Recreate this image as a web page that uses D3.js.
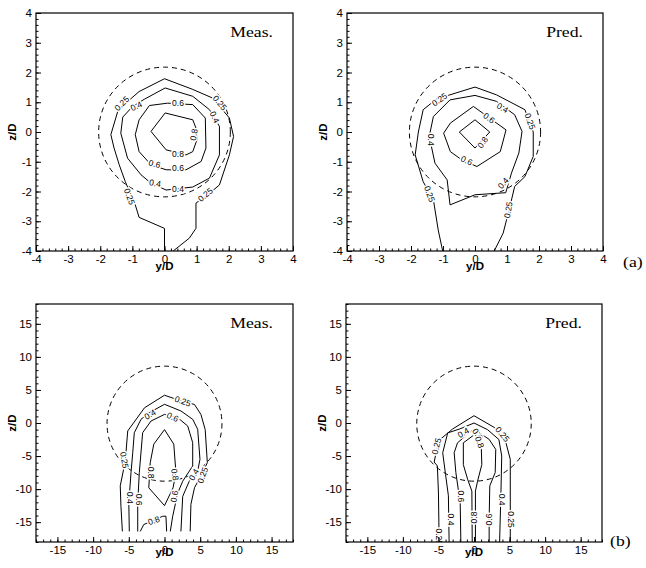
<!DOCTYPE html>
<html>
<head>
<meta charset="utf-8">
<script src="https://cdn.jsdelivr.net/npm/d3@7"></script>
<style>
body { margin: 0; background: #fff; }
svg { display: block; }
.tick text { font-family: "Liberation Sans", Arial, sans-serif; font-size: 11.5px; fill: #000; }
.clabel { font-family: "Liberation Sans", Arial, sans-serif; font-size: 8.5px; fill: #000; }
.serif { font-family: "Liberation Serif", "Times New Roman", serif; font-size: 15px; }
</style>
</head>
<body>
<div id="container"></div>
<script>
// tick labels
const ticksA = [-4, -3, -2, -1, 0, 1, 2, 3, 4];
const ticksB = [-15, -10, -5, 0, 5, 10, 15];

// dashed circle: [cx, cy, radius along y/D, radius along z/D]
const circleA = [0, 0, 2.05, 2.18];
const circleB = [0, -0.1, 8.05, 8.7];

// (a) measured
const measA_025 = [[0,-4],[0,-3.24],[-0.79,-2.87],[-0.91,-2.45],[-1.22,-1.67],[-1.41,-1.1],[-1.57,-0.54],[-1.67,-0.09],[-1.44,0.75],[-0.79,1.36],[0,1.79],[0.86,1.44],[1.5,1.14],[2.02,0.47],[2.15,-0.15],[2.02,-0.77],[1.71,-1.78],[1.4,-2.06],[0.98,-2.39],[0.98,-3.24],[0.77,-3.57],[0.27,-4]];
const measA_04 = [[0.02,1.48],[0.88,1.2],[1.4,0.75],[1.71,0.19],[1.71,-0.77],[1.4,-1.55],[0.88,-1.85],[0.05,-1.95],[-0.42,-1.72],[-0.73,-1.44],[-1.15,-0.88],[-1.36,-0.04],[-1.3,0.5],[-1.0,0.85],[-0.63,1.1]];
const measA_06 = [[-0.47,0.89],[0.1,0.97],[0.88,0.92],[1.27,0.47],[1.29,-0.54],[1.14,-0.99],[0.67,-1.27],[0.05,-1.27],[-0.42,-1.1],[-0.79,-0.66],[-0.91,-0.09],[-0.79,0.41]];
const measA_08 = [[-0.42,0.02],[0.02,0.64],[0.88,0.41],[0.98,0.13],[1.03,-0.2],[0.88,-0.66],[0.67,-0.77],[0.05,-0.6]];
const measA_labels = [[-1.33,0.96,"0.25",-45],[-0.88,0.87,"0.4",-25],[0.42,0.96,"0.6",0],[1.72,0.98,"0.25",50],[1.56,0.5,"0.4",65],[0.91,-0.09,"0.8",-80],[0.42,-0.73,"0.8",0],[-0.31,-1.07,"0.6",15],[0.42,-1.21,"0.6",0],[-0.29,-1.72,"0.4",10],[0.42,-1.91,"0.4",0],[-1.09,-2.17,"0.25",70],[1.27,-2.11,"0.25",-40]];

// (a) predicted
const predA_025 = [[-1.01,-4],[-1.15,-3.29],[-1.3,-2.28],[-1.62,-1.67],[-1.87,-0.77],[-1.77,0],[-1.62,0.75],[-1.2,1.11],[0,1.51],[0.67,1.25],[1.56,0.75],[1.82,0],[1.82,-0.82],[1.56,-1.5],[1.24,-1.83],[1.09,-2.51],[0.88,-3.4],[0.6,-4]];
const predA_04 = [[0,1.23],[0.67,1.03],[1.24,0.58],[1.47,0.02],[1.37,-0.71],[1.14,-1.38],[0.96,-2.04],[0,-2.11],[-0.78,-2.45],[-0.87,-1.61],[-1.25,-1.05],[-1.43,-0.15],[-1.3,0.52],[-0.78,1.08]];
const predA_06 = [[-0.05,0.86],[0.97,0.07],[0.79,-0.66],[0.06,-1.16],[-0.41,-0.94],[-0.77,-0.66],[-0.98,-0.04],[-0.77,0.3]];
const predA_08 = [[-0.49,0],[0,0.41],[0.46,0],[0,-0.54]];
const predA_labels = [[-1.11,1.09,"0.25",-35],[0.86,0.81,"0.4",30],[0.44,0.47,"0.6",35],[0.24,-0.35,"0.8",-55],[-0.26,-0.96,"0.6",25],[-1.38,-0.26,"0.4",90],[1.72,0.36,"0.25",70],[0.88,-1.72,"0.4",-50],[1.04,-2.62,"0.25",-80],[-1.42,-2.08,"0.25",70]];

// (b) measured
const measB_025 = [[-5.9,-16.4],[-6.1,-12.6],[-6.2,-9.5],[-5.5,-5.8],[-5.15,-1.2],[-2.8,2.3],[0,4.2],[1.6,3.6],[4.2,2.8],[5.1,1.3],[5.7,-1.0],[6.0,-6.0],[5.35,-7.5],[4.2,-9.8],[3.7,-12.3],[3.6,-16.4]];
const measB_04 = [[-4.93,-16.4],[-5.0,-12.1],[-4.69,-7.5],[-4.45,-4.5],[-4.23,-1.47],[-3.29,0.56],[-2.13,1.56],[0,2.83],[2.3,1.82],[3.95,0.56],[4.65,-0.95],[4.97,-5.5],[4.65,-7.27],[3.47,-8.8],[2.55,-11.1],[2.3,-16.4]];
const measB_06 = [[-3.75,-16.4],[-3.75,-12.1],[-3.53,-7.5],[-3.06,-1.47],[-1.89,0.3],[0,1.3],[1.85,0.8],[3.25,-0.45],[3.95,-2.98],[3.95,-6.5],[2.55,-8.8],[1.85,-10.6],[1.15,-14.1],[0.81,-16.4]];
const measB_08 = [[0,-1.0],[1.3,-3.2],[1.6,-7.5],[1.2,-9.8],[0,-12.5],[-2.2,-9.8],[-2.0,-6.0],[-1.5,-3.2]];
const measB_08b = [[-3.4,-16.4],[-2.9,-15.35],[-2.1,-15.0],[-0.25,-14.1],[0.2,-14.1],[0.3,-16.4]];
const measB_labels = [[2.55,3.3,"0.25",20],[-2.03,1.3,"0.4",-30],[1.15,0.9,"0.6",25],[-5.63,-5.6,"0.25",80],[-1.9,-7.5,"0.8",90],[1.47,-7.8,"0.8",80],[4.1,-7.8,"0.4",-60],[5.35,-7.9,"0.25",-70],[-4.83,-11.3,"0.4",90],[-3.53,-11.6,"0.6",90],[1.37,-11.1,"0.6",-80],[-1.5,-14.75,"0.8",-20]];

// (b) predicted
const predB_025 = [[-4.9,-18],[-5.0,-10.6],[-5.15,-6.5],[-5.6,-5.9],[-5.0,-2.7],[-3.0,-0.9],[0,1.1],[2.9,-0.7],[4.4,-2.6],[5.1,-5.5],[5.1,-14],[5.1,-18]];
const predB_04 = [[-3.5,-18],[-3.6,-11],[-4.0,-7.8],[-4.4,-4.5],[-3.7,-1.5],[-2.0,-0.9],[0,0],[1.9,-1.0],[3.5,-2.5],[3.9,-5],[3.8,-10],[3.6,-18]];
const predB_06 = [[-1.85,-18],[-1.94,-12.1],[-2.55,-7.5],[-2.79,-4.5],[-2.32,-3.0],[-0.68,-1.47],[0,-0.96],[2.13,-2.47],[3.06,-4.0],[2.98,-7.5],[2.22,-9.5],[2.13,-14.6],[2.13,-18]];
const predB_08 = [[-0.25,-18],[-0.3,-10.3],[-0.9,-8.5],[-1.5,-6.3],[-1.5,-3],[0,-1.8],[1.0,-2.9],[1.1,-6.3],[0.5,-8.8],[0.2,-10.3],[0.2,-18]];
const predB_labels = [[-5.27,-3.5,"0.25",-75],[-1.5,-1.47,"0.4",-30],[0.5,-1.7,"0.6",55],[0.8,-2.9,"0.8",70],[4.0,-1.7,"0.25",50],[-1.85,-11.1,"0.6",90],[-3.26,-14.6,"0.4",90],[0,-14.3,"0.8",-90],[2.13,-14.6,"0.6",-90],[4.0,-11.6,"0.4",90],[5.17,-14.6,"0.25",90],[-4.9,-17.2,"0.25",90]];

const width = 646, height = 568;

let svg = d3.select("#container").append("svg")
    .attr("width", width)
    .attr("height", height);
svg.append("rect").attr("width", width).attr("height", height).attr("fill", "#fff");

const panels = [
    {id: "am", title: "Meas.", left: 36, top: 13, w: 257, h: 238, titleGap: 19, domain: [-4, 4], ticks: ticksA, minor: d3.range(-20, 21).map(i => i / 5), circle: circleA,
     contours: [[measA_025, false], [measA_04, true], [measA_06, true], [measA_08, true]], labels: measA_labels},
    {id: "ap", title: "Pred.", left: 347, top: 13, w: 256, h: 238, titleGap: 19, domain: [-4, 4], ticks: ticksA, minor: d3.range(-20, 21).map(i => i / 5), circle: circleA,
     contours: [[predA_025, false], [predA_04, true], [predA_06, true], [predA_08, true]], labels: predA_labels},
    {id: "bm", title: "Meas.", left: 36, top: 304, w: 257, h: 238, titleGap: 14, domain: [-18, 18], ticks: ticksB, minor: d3.range(-18, 19), circle: circleB,
     contours: [[measB_025, false], [measB_04, false], [measB_06, false], [measB_08, true], [measB_08b, false]], labels: measB_labels},
    {id: "bp", title: "Pred.", left: 346, top: 304, w: 256, h: 238, titleGap: 14, domain: [-18, 18], ticks: ticksB, minor: d3.range(-18, 19), circle: circleB,
     contours: [[predB_025, false], [predB_04, false], [predB_06, false], [predB_08, false]], labels: predB_labels}
];

// serif captions in the original are drawn wider than plain Times
function wideText(sel) {
    let len = sel.node().getComputedTextLength();
    sel.attr("textLength", len * 1.18).attr("lengthAdjust", "spacingAndGlyphs");
}

function drawPanel(p) {
    let x = d3.scaleLinear().domain(p.domain).range([p.left, p.left + p.w]);
    let y = d3.scaleLinear().domain(p.domain).range([p.top + p.h, p.top]);

    svg.append("clipPath").attr("id", "clip-" + p.id)
        .append("rect")
        .attr("x", p.left).attr("y", p.top)
        .attr("width", p.w).attr("height", p.h);

    let plot = svg.append("g").attr("clip-path", `url(#clip-${p.id})`);

    // dashed circle
    plot.append("ellipse")
        .attr("cx", x(p.circle[0]))
        .attr("cy", y(p.circle[1]))
        .attr("rx", x(p.circle[0] + p.circle[2]) - x(p.circle[0]))
        .attr("ry", y(p.circle[1]) - y(p.circle[1] + p.circle[3]))
        .attr("fill", "none")
        .attr("stroke", "#000")
        .attr("stroke-width", 1)
        .attr("stroke-dasharray", "5,4");

    let line = d3.line().x(d => x(d[0])).y(d => y(d[1]));
    p.contours.forEach(c => {
        plot.append("path")
            .attr("d", line(c[1] ? c[0].concat([c[0][0]]) : c[0]))
            .attr("fill", "none")
            .attr("stroke", "#000")
            .attr("stroke-width", 1)
            .attr("stroke-linejoin", "round");
    });

    // contour labels, white halo breaks the line
    plot.selectAll("text.clabel")
        .data(p.labels)
        .enter()
        .append("text")
        .attr("class", "clabel")
        .attr("transform", d => `translate(${x(d[0])},${y(d[1])}) rotate(${d[3]})`)
        .attr("text-anchor", "middle")
        .attr("dy", "0.35em")
        .attr("stroke", "#fff")
        .attr("stroke-width", 3)
        .attr("paint-order", "stroke")
        .text(d => d[2]);

    // minor ticks
    svg.append("g")
        .attr("transform", `translate(0,${p.top + p.h})`)
        .call(d3.axisBottom(x).tickValues(p.minor).tickSize(-2.5).tickSizeOuter(0).tickFormat(""))
        .call(g => g.select(".domain").remove());
    svg.append("g")
        .attr("transform", `translate(${p.left},0)`)
        .call(d3.axisLeft(y).tickValues(p.minor).tickSize(-2.5).tickSizeOuter(0).tickFormat(""))
        .call(g => g.select(".domain").remove());

    // major ticks
    svg.append("g")
        .attr("transform", `translate(0,${p.top + p.h})`)
        .call(d3.axisBottom(x).tickValues(p.ticks).tickSize(-5).tickSizeOuter(0).tickPadding(4).tickFormat(d => String(d)))
        .call(g => g.select(".domain").remove());
    svg.append("g")
        .attr("transform", `translate(${p.left},0)`)
        .call(d3.axisLeft(y).tickValues(p.ticks).tickSize(-5).tickSizeOuter(0).tickPadding(4).tickFormat(d => String(d)))
        .call(g => g.select(".domain").remove());

    // frame
    svg.append("rect")
        .attr("x", p.left).attr("y", p.top)
        .attr("width", p.w).attr("height", p.h)
        .attr("fill", "none")
        .attr("stroke", "#000")
        .attr("stroke-width", 1.2);

    svg.append("text")
        .attr("x", x(0))
        .attr("y", p.top + p.h + p.titleGap)
        .attr("text-anchor", "middle")
        .style("font", "bold 11.5px 'Liberation Sans', Arial, sans-serif")
        .text("y/D");
    svg.append("text")
        .attr("transform", `translate(${p.left - 20},${y(0)}) rotate(-90)`)
        .attr("text-anchor", "middle")
        .style("font", "bold 11.5px 'Liberation Sans', Arial, sans-serif")
        .text("z/D");

    svg.append("text")
        .attr("class", "serif")
        .attr("x", p.left + p.w - 20)
        .attr("y", p.top + 24)
        .attr("text-anchor", "end")
        .text(p.title)
        .call(wideText);
}

panels.forEach(drawPanel);

svg.append("text").attr("class", "serif").attr("x", 623).attr("y", 267)
    .text("(a)").call(wideText);
svg.append("text").attr("class", "serif").attr("x", 610).attr("y", 546)
    .text("(b)").call(wideText);
</script>
</body>
</html>
